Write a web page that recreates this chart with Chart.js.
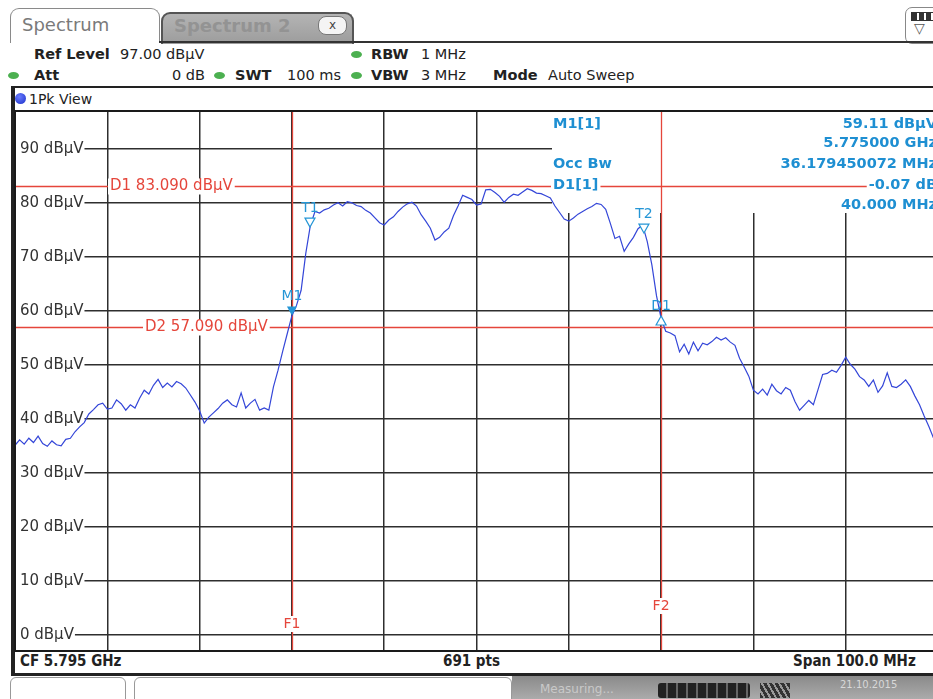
<!DOCTYPE html>
<html>
<head>
<meta charset="utf-8">
<script src="https://cdn.jsdelivr.net/npm/chart.js@4.4.1/dist/chart.umd.min.js"></script>
<style>
  body { margin: 0; width: 933px; height: 699px; overflow: hidden; background: #fff; position: relative;
         font-family: "DejaVu Sans", sans-serif; color: #222; }
  .abs { position: absolute; white-space: nowrap; }
  .b { font-weight: bold; }
  .row { font-size: 14.5px; line-height: 18px; }
  .dot { position: absolute; width: 11px; height: 7px; border-radius: 50%; background: #4cb050; }
  #chart { position: absolute; left: 0; top: 0; z-index: 1; }
</style>
</head>
<body>
<!-- tabs -->
<div class="abs" style="left:10px;top:8px;width:148px;height:34px;border:1.5px solid #8a8a8a;border-bottom:none;border-radius:9px 9px 0 0;background:#fff;"></div>
<div class="abs" style="left:22px;top:14px;font-size:18px;color:#7a7a7a;">Spectrum</div>
<div class="abs" style="left:161px;top:12px;width:189px;height:30px;border:2px solid #555;border-bottom:none;border-radius:9px 9px 0 0;background:linear-gradient(#b4b4b4,#9c9c9c);"></div>
<div class="abs b" style="left:174px;top:15px;font-size:18px;color:#939393;">Spectrum 2</div>
<div class="abs" style="left:318px;top:16px;width:27px;height:17px;border:1px solid #777;border-radius:8px;background:#f4f4f4;font-size:12px;line-height:16px;text-align:center;color:#444;">x</div>
<div class="abs" style="left:905px;top:7px;width:40px;height:35px;border:1.5px solid #888;border-radius:7px;background:#fff;"></div>
<div class="abs" style="left:911px;top:12px;width:22px;height:7px;background:repeating-linear-gradient(90deg,#333 0 5px,#fff 5px 7px);border:1px solid #333;"></div>
<div class="abs" style="left:914px;top:20px;font-size:14px;color:#555;">&#9661;</div>
<div class="abs" style="left:159px;top:41px;width:780px;height:2px;background:#333;"></div>

<!-- settings rows -->
<div class="abs row b" style="left:34px;top:45px;">Ref Level</div>
<div class="abs row" style="left:120px;top:45px;">97.00 dBµV</div>
<span class="dot" style="left:351px;top:51px;"></span>
<div class="abs row b" style="left:371px;top:45px;">RBW</div>
<div class="abs row" style="left:421px;top:45px;">1 MHz</div>

<span class="dot" style="left:8px;top:72px;"></span>
<div class="abs row b" style="left:34px;top:66px;">Att</div>
<div class="abs row" style="left:172px;top:66px;">0 dB</div>
<span class="dot" style="left:214px;top:72px;"></span>
<div class="abs row b" style="left:235px;top:66px;">SWT</div>
<div class="abs row" style="left:287px;top:66px;">100 ms</div>
<span class="dot" style="left:351px;top:72px;"></span>
<div class="abs row b" style="left:371px;top:66px;">VBW</div>
<div class="abs row" style="left:421px;top:66px;">3 MHz</div>
<div class="abs row b" style="left:493px;top:66px;">Mode</div>
<div class="abs row" style="left:548px;top:66px;">Auto Sweep</div>

<!-- view panel frame -->
<div class="abs" style="left:11px;top:86px;width:930px;height:585px;border:2px solid #222;border-left:4px solid #222;border-bottom:3px solid #222;"></div>
<span class="abs" style="left:15px;top:93px;width:11px;height:11px;border-radius:50%;background:radial-gradient(circle at 40% 35%,#6a7cff,#1a2fc8);"></span>
<div class="abs" style="left:29px;top:90px;font-size:14px;line-height:18px;">1Pk View</div>

<!-- bottom info bar -->
<div class="abs b" style="left:20px;top:652px;font-family:'DejaVu Sans Condensed','DejaVu Sans',sans-serif;font-size:15px;line-height:18px;">CF 5.795 GHz</div>
<div class="abs b" style="left:443px;top:652px;font-family:'DejaVu Sans Condensed','DejaVu Sans',sans-serif;font-size:15px;line-height:18px;">691 pts</div>
<div class="abs b" style="left:793px;top:652px;font-family:'DejaVu Sans Condensed','DejaVu Sans',sans-serif;font-size:15px;line-height:18px;">Span 100.0 MHz</div>

<!-- status bar -->
<div class="abs" style="left:10px;top:677px;width:114px;height:30px;border:1px solid #999;border-radius:6px 6px 0 0;background:#fff;"></div>
<div class="abs" style="left:134px;top:677px;width:376px;height:30px;border:1px solid #999;border-radius:6px 6px 0 0;background:#fff;"></div>
<div class="abs" style="left:512px;top:676px;width:430px;height:30px;background:linear-gradient(#8a8a8a,#b5b5b5);"></div>
<div class="abs" style="left:540px;top:682px;font-size:12px;color:#c9c9c9;">Measuring...</div>
<div class="abs" style="left:658px;top:683px;width:92px;height:15px;border-radius:3px;background:repeating-linear-gradient(90deg,#222 0 8px,#666 8px 10px);"></div>
<div class="abs" style="left:760px;top:683px;width:30px;height:15px;background:repeating-linear-gradient(60deg,#333 0 3px,#999 3px 5px);"></div>
<div class="abs" style="left:840px;top:679px;font-size:10px;color:#d8d8d8;">21.10.2015</div>

<canvas id="chart" width="950" height="699"></canvas>

<script>
// trace values in dBµV, one every 0.5 MHz from 5.745 GHz to 5.845 GHz (offset in MHz on x)
const freqStep = 0.5;
const levels = [
  35.1, 36.1, 35.3, 36.4, 35.6, 36.8, 35.4, 34.9, 35.9, 35.2,
  35.0, 36.2, 36.4, 37.6, 38.5, 39.3, 40.9, 41.7, 42.6, 42.9,
  41.8, 42.0, 43.5, 42.8, 41.6, 42.6, 42.0, 43.8, 45.3, 44.6,
  46.2, 47.3, 45.8, 46.6, 45.9, 46.9, 46.5, 45.7, 44.4, 43.1,
  41.5, 39.2, 40.3, 41.1, 41.9, 42.9, 43.5, 42.6, 42.2, 44.8,
  42.0, 42.9, 43.6, 41.6, 42.0, 41.6, 45.9, 49.0, 52.5, 55.8,
  59.1, 61.0, 63.8, 70.6, 75.8, 78.4, 78.1, 78.7, 79.0, 79.6,
  80.0, 79.4, 80.2, 80.0, 79.5, 79.3, 78.6, 78.1, 77.2, 76.3,
  75.9, 76.8, 77.4, 78.4, 79.2, 79.8, 80.1, 79.4, 77.8, 76.6,
  75.3, 73.1, 73.6, 74.6, 75.3, 77.6, 79.4, 81.4, 81.0, 80.6,
  79.6, 79.8, 82.4, 82.5, 81.9, 81.2, 80.1, 81.0, 81.6, 81.4,
  82.0, 82.6, 82.3, 81.8, 81.7, 81.3, 80.9, 79.4, 78.2, 77.0,
  76.6, 77.2, 77.9, 78.4, 78.9, 79.3, 79.9, 79.7, 78.8, 76.2,
  73.4, 73.8, 71.0, 72.4, 73.6, 75.2, 75.9, 72.8, 68.5, 62.8,
  58.6, 56.2, 55.9, 55.4, 52.4, 53.8, 52.0, 54.2, 52.6, 54.0,
  53.7, 54.3, 55.1, 54.6, 55.0, 54.2, 53.6, 51.2, 49.6, 47.9,
  45.3, 44.6, 45.5, 44.4, 46.4, 45.2, 44.6, 45.8, 45.3, 43.2,
  41.6, 42.5, 43.4, 42.6, 45.4, 48.2, 48.4, 49.0, 48.6, 49.9,
  51.4, 50.1, 49.2, 47.8, 47.2, 46.0, 47.2, 44.9, 46.1, 48.5,
  46.0, 45.8, 46.4, 47.2, 46.0, 44.2, 42.6, 40.5, 38.6, 36.5,
  35.2
];
const freqs = levels.map((_, i) => i * freqStep);

const yTickValues = [0, 10, 20, 30, 40, 50, 60, 70, 80, 90];
const xTickValues = [0, 10, 20, 30, 40, 50, 60, 70, 80, 90, 100];
const yMin = -3, yMax = 97;   // ref level 97 dBµV, 10 dB/div

// display lines
const levelLineNames = ['D1', 'D2'];
const levelLineValues = [83.09, 57.09];
const freqLineNames = ['F1', 'F2'];
const freqLineValues = [30, 70];

// markers: name, freq offset (MHz), level
const markerNames = ['M1', 'T1', 'T2', 'D1'];
const markerFreqs = [30, 31.96, 68.14, 70];
const markerLevels = [59.11, 75.5, 74.4, 59.04];

// marker readout
const readoutLeft = ['M1[1]', 'Occ Bw', 'D1[1]'];
const readoutRight = ['59.11 dBµV', '5.775000 GHz', '36.179450072 MHz', '-0.07 dB', '40.000 MHz'];

const RED = '#e5463b';
const MK = '#2596d6';

const overlay = {
  id: 'overlay',
  beforeDatasetsDraw(chart) {
    const { ctx, chartArea: a, scales: { x, y } } = chart;
    ctx.save();
    // blank area behind the marker table
    ctx.fillStyle = '#fff';
    ctx.fillRect(552, a.top + 1, a.right - 552, 212 - a.top);

    // level labels inside the grid
    ctx.font = '15px "DejaVu Sans"';
    ctx.textBaseline = 'middle';
    yTickValues.forEach(v => {
      const py = y.getPixelForValue(v);
      const txt = v + ' dBµV';
      const w = ctx.measureText(txt).width;
      ctx.fillStyle = '#fff';
      ctx.fillRect(a.left + 1, py - 9, w + 5, 18);
      ctx.fillStyle = '#333';
      ctx.fillText(txt, a.left + 5, py);
    });

    // frequency lines
    ctx.strokeStyle = RED;
    ctx.lineWidth = 1.3;
    freqLineValues.forEach(f => {
      const px = Math.round(x.getPixelForValue(f)) + 0.5;
      ctx.beginPath();
      ctx.moveTo(px, a.top);
      ctx.lineTo(px, a.bottom);
      ctx.stroke();
    });
    const fLabelY = [624, 606];
    ctx.font = '14px "DejaVu Sans"';
    ctx.textAlign = 'center';
    freqLineNames.forEach((n, i) => {
      const px = x.getPixelForValue(freqLineValues[i]);
      const w = ctx.measureText(n).width;
      ctx.fillStyle = '#fff';
      ctx.fillRect(px - w / 2 - 1, fLabelY[i] - 8, w + 2, 16);
      ctx.fillStyle = RED;
      ctx.fillText(n, px, fLabelY[i]);
    });

    // level lines with their labels
    const labelX = [110, 145];
    ctx.textAlign = 'left';
    ctx.font = '15px "DejaVu Sans"';
    levelLineNames.forEach((n, i) => {
      const v = levelLineValues[i];
      const py = Math.round(y.getPixelForValue(v)) + 0.5;
      ctx.strokeStyle = RED;
      ctx.beginPath();
      ctx.moveTo(a.left, py);
      ctx.lineTo(a.right, py);
      ctx.stroke();
      const txt = n + ' ' + v.toFixed(3) + ' dBµV';
      const w = ctx.measureText(txt).width;
      ctx.fillStyle = '#fff';
      ctx.fillRect(labelX[i] - 2, py - 8, w + 4, 16);
      ctx.fillStyle = RED;
      ctx.fillText(txt, labelX[i], py);
    });
    ctx.restore();
  },
  afterDatasetsDraw(chart) {
    const { ctx, chartArea: a, scales: { x, y } } = chart;
    ctx.save();
    // marker symbols
    ctx.lineWidth = 1.2;
    markerNames.forEach((n, i) => {
      const px = x.getPixelForValue(markerFreqs[i]);
      const py = y.getPixelForValue(markerLevels[i]);
      ctx.beginPath();
      if (n === 'D1') {
        ctx.moveTo(px, py);
        ctx.lineTo(px - 5, py + 9);
        ctx.lineTo(px + 5, py + 9);
      } else {
        ctx.moveTo(px, py);
        ctx.lineTo(px - 5, py - 9);
        ctx.lineTo(px + 5, py - 9);
      }
      ctx.closePath();
      if (n === 'M1') {
        ctx.fillStyle = MK;
        ctx.fill();
      } else {
        ctx.fillStyle = '#fff';
        ctx.fill();
        ctx.strokeStyle = MK;
        ctx.stroke();
      }
      ctx.fillStyle = MK;
      ctx.font = '14px "DejaVu Sans"';
      ctx.textAlign = 'center';
      ctx.textBaseline = 'middle';
      ctx.fillText(n, px, n === 'D1' ? py - 10 : py - 19);
    });

    // marker readout table
    ctx.font = 'bold 14.5px "DejaVu Sans"';
    ctx.textBaseline = 'middle';
    const leftY = [124, 164, 185];
    const rightY = [124, 143, 164, 185, 205];
    ctx.textAlign = 'left';
    readoutLeft.forEach((t, i) => {
      const w = ctx.measureText(t).width;
      ctx.fillStyle = '#fff';
      ctx.fillRect(551, leftY[i] - 8, w + 4, 16);
      ctx.fillStyle = '#1e8fd2';
      ctx.fillText(t, 553, leftY[i]);
    });
    ctx.textAlign = 'right';
    readoutRight.forEach((t, i) => {
      const w = ctx.measureText(t).width;
      ctx.fillStyle = '#fff';
      ctx.fillRect(937 - w - 2, rightY[i] - 8, w + 4, 16);
      ctx.fillStyle = '#1e8fd2';
      ctx.fillText(t, 937, rightY[i]);
    });

    // plot frame
    ctx.strokeStyle = '#1a1a1a';
    ctx.lineWidth = 2;
    ctx.strokeRect(a.left, a.top, a.right - a.left, a.bottom - a.top);
    ctx.restore();
  }
};

new Chart(document.getElementById('chart'), {
  type: 'line',
  data: {
    datasets: [{
      data: freqs.map((f, i) => ({ x: f, y: levels[i] })),
      borderColor: '#3446d8',
      borderWidth: 1.2,
      pointRadius: 0,
      tension: 0,
      fill: false
    }]
  },
  options: {
    responsive: false,
    animation: false,
    devicePixelRatio: 1,
    layout: { padding: { left: 15, top: 111, right: 12, bottom: 48 } },
    plugins: { legend: { display: false }, tooltip: { enabled: false } },
    scales: {
      x: {
        type: 'linear', min: 0, max: 100,
        afterBuildTicks: s => { s.ticks = xTickValues.map(v => ({ value: v })); },
        ticks: { display: false },
        grid: { color: '#2e2e2e', lineWidth: 1.5, drawTicks: false },
        border: { display: false }
      },
      y: {
        type: 'linear', min: yMin, max: yMax,
        afterBuildTicks: s => { s.ticks = yTickValues.map(v => ({ value: v })); },
        ticks: { display: false },
        grid: { color: '#2e2e2e', lineWidth: 1.5, drawTicks: false },
        border: { display: false }
      }
    }
  },
  plugins: [overlay]
});
</script>
</body>
</html>
